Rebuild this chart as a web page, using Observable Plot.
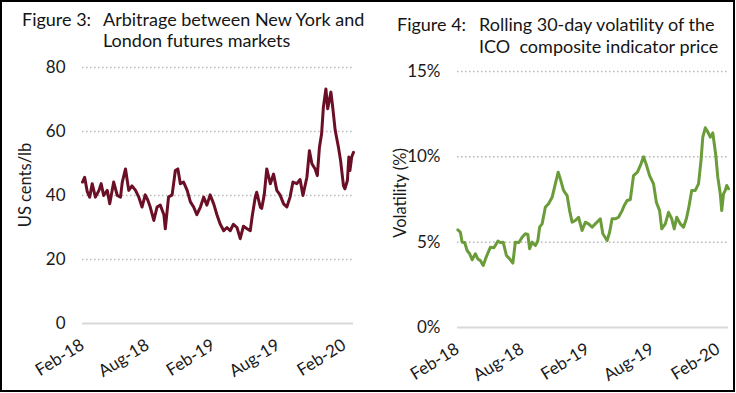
<!DOCTYPE html>
<html>
<head>
<meta charset="utf-8">
<script src="https://cdn.jsdelivr.net/npm/d3@7"></script>
<script src="https://cdn.jsdelivr.net/npm/@observablehq/plot@0.6"></script>
<style>
  body { margin: 0; background: #fff; }
  #wrap { position: relative; width: 736px; height: 393px; overflow: hidden; font-family: Lato, sans-serif; }
  .frame { position: absolute; left: 0; top: 0; width: 735px; height: 392px; border: 2px solid #000; box-sizing: border-box; }
  .t { position: absolute; font-size: 18px; line-height: 21px; color: #151515; white-space: pre; }
  .panel { position: absolute; top: 55px; }
  .ylab { position: absolute; font-size: 16.5px; color: #1a1a1a; white-space: pre; transform: translate(-50%, -50%) rotate(-90deg); z-index: 2; }
</style>
</head>
<body>
<div id="wrap">
  <div class="frame"></div>
  <div class="t" style="left:22px; top:9px;">Figure 3:</div>
  <div class="t" style="left:103px; top:9px;">Arbitrage between New York and<br>London futures markets</div>
  <div class="t" style="left:397px; top:13px; line-height:22px;">Figure 4:</div>
  <div class="t" style="left:479px; top:13px; line-height:22px;">Rolling 30-day volatility of the<br>ICO  composite indicator price</div>
  <div class="panel" id="left" style="left:0px;"></div>
  <div class="panel" id="right" style="left:368px;"></div>
  <div class="ylab" id="ylabL" style="left:25px; top:185px;"></div>
  <div class="ylab" id="ylabR" style="left:400px; top:193px;"></div>
</div>
<script>
// ---- Figure 3: arbitrage (US cents/lb) ----
const arbDates = ["2018-02-01","2018-02-07","2018-02-14","2018-02-21","2018-02-28","2018-03-09","2018-03-19","2018-03-25","2018-04-01","2018-04-11","2018-04-18","2018-04-29","2018-05-09","2018-05-18","2018-05-23","2018-06-01","2018-06-10","2018-06-19","2018-06-29","2018-07-08","2018-07-17","2018-07-26","2018-08-02","2018-08-09","2018-08-19","2018-08-28","2018-09-06","2018-09-16","2018-09-20","2018-09-29","2018-10-09","2018-10-18","2018-10-25","2018-11-01","2018-11-10","2018-11-20","2018-11-29","2018-12-08","2018-12-17","2018-12-27","2019-01-05","2019-01-14","2019-01-23","2019-02-02","2019-02-11","2019-02-20","2019-03-02","2019-03-11","2019-03-20","2019-03-29","2019-04-08","2019-04-17","2019-04-26","2019-05-06","2019-05-15","2019-05-20","2019-05-29","2019-06-02","2019-06-12","2019-06-16","2019-06-23","2019-06-30","2019-07-10","2019-07-19","2019-07-28","2019-08-06","2019-08-16","2019-08-25","2019-09-03","2019-09-11","2019-09-22","2019-10-01","2019-10-09","2019-10-20","2019-10-27","2019-11-03","2019-11-12","2019-11-18","2019-11-24","2019-11-30","2019-12-05","2019-12-12","2019-12-17","2019-12-26","2019-12-31","2020-01-07","2020-01-16","2020-01-22","2020-01-30","2020-02-03","2020-02-10","2020-02-14","2020-02-17","2020-02-22","2020-02-27"];
const arbValues = [44.2,45.7,41.3,39.5,43.7,39.5,41.6,43.7,40.0,41.6,37.4,44.2,40.0,39.5,44.2,48.3,41.6,43.0,41.6,39.5,36.4,40.2,38.6,36.4,32.2,36.4,37.0,34.0,29.6,39.5,40.2,47.8,48.3,43.7,44.2,41.6,38.0,36.4,34.0,36.4,39.5,37.0,40.2,37.4,34.0,31.1,29.0,30.0,29.0,31.0,30.0,26.5,30.4,29.6,29.0,33.2,39.5,41.0,36.4,36.0,40.2,48.3,43.7,46.7,41.6,40.2,37.4,36.4,39.5,44.2,43.7,45.0,40.0,45.7,54.0,49.9,48.3,46.2,55.1,59.3,67.6,73.3,67.1,72.3,67.6,60.3,55.1,50.9,43.1,42.1,44.7,52.0,47.8,52.0,53.5];

// ---- Figure 4: rolling 30-day volatility (%) ----
const volDates = ["2018-02-02","2018-02-09","2018-02-14","2018-02-21","2018-02-28","2018-03-07","2018-03-14","2018-03-23","2018-03-30","2018-04-06","2018-04-14","2018-04-23","2018-05-04","2018-05-14","2018-05-25","2018-06-01","2018-06-09","2018-06-18","2018-06-27","2018-07-06","2018-07-13","2018-07-23","2018-08-01","2018-08-10","2018-08-17","2018-08-22","2018-08-29","2018-09-07","2018-09-14","2018-09-19","2018-09-26","2018-10-05","2018-10-14","2018-10-24","2018-11-02","2018-11-10","2018-11-16","2018-11-25","2018-12-05","2018-12-12","2018-12-19","2018-12-28","2019-01-06","2019-01-16","2019-01-25","2019-02-03","2019-02-13","2019-02-22","2019-03-08","2019-03-15","2019-03-27","2019-04-03","2019-04-10","2019-04-19","2019-04-28","2019-05-08","2019-05-14","2019-05-22","2019-05-31","2019-06-09","2019-06-20","2019-06-30","2019-07-07","2019-07-15","2019-07-24","2019-08-04","2019-08-12","2019-08-21","2019-08-27","2019-09-06","2019-09-15","2019-09-24","2019-10-01","2019-10-08","2019-10-18","2019-10-27","2019-11-04","2019-11-10","2019-11-19","2019-11-29","2019-12-08","2019-12-15","2019-12-20","2019-12-27","2020-01-02","2020-01-10","2020-01-17","2020-01-25","2020-01-31","2020-02-07","2020-02-11","2020-02-16","2020-02-21","2020-02-25","2020-03-01"];
const volValues = [5.72,5.58,5.00,4.98,4.51,4.32,3.97,4.32,4.02,3.92,3.63,4.16,4.70,4.67,5.06,4.98,5.00,4.22,4.02,3.77,5.00,4.98,5.29,5.49,5.45,4.61,5.00,4.80,5.08,5.88,6.07,7.05,7.25,7.63,8.42,9.10,8.71,8.03,7.73,6.85,6.17,6.27,6.46,5.68,6.17,6.07,5.88,6.07,6.37,5.49,5.10,5.58,6.37,6.37,6.46,6.85,7.15,7.44,7.50,8.90,9.10,9.59,10.00,9.53,8.90,8.42,7.34,6.85,5.78,6.07,6.75,6.37,5.78,6.46,6.07,5.88,6.37,6.95,8.03,8.03,8.42,9.78,11.15,11.70,11.50,11.15,11.40,10.17,8.81,7.83,6.85,7.83,8.03,8.32,8.13];

// ---- axes ----
const xTickDates = ["2018-02-01","2018-08-01","2019-02-01","2019-08-01","2020-02-01"];
const xTickLabels = ["Feb-18","Aug-18","Feb-19","Aug-19","Feb-20"];
const arbTicks = [0, 20, 40, 60, 80];
const volTicks = [0, 5, 10, 15];
const volTickLabels = ["0%", "5%", "10%", "15%"];
const arbAxisLabel = "US cents/lb";
const volAxisLabel = "Volatility (%)";

const xTicks = xTickDates.map(d => new Date(d));
const xLabel = new Map(xTicks.map((d, i) => [+d, xTickLabels[i]]));
const volLabel = new Map(volTicks.map((d, i) => [d, volTickLabels[i]]));

const arb = arbDates.map((d, i) => ({date: new Date(d), value: arbValues[i]}));
const vol = volDates.map((d, i) => ({date: new Date(d), value: volValues[i]}));

const baseStyle = {fontFamily: "Lato, sans-serif", fontSize: "17px", color: "#1a1a1a", background: "transparent", overflow: "visible"};

function panel({data, color, yDomain, yTicks, yFormat, xDomain, marginLeft, marginRight, marginTop, marginBottom}) {
  return Plot.plot({
    width: 368, height: 330,
    marginLeft, marginRight, marginTop, marginBottom,
    style: baseStyle,
    x: {type: "utc", domain: xDomain},
    y: {domain: yDomain},
    marks: [
      Plot.gridY(yTicks.filter(d => d > 0), {stroke: "#b8b8b8", strokeOpacity: 1, strokeWidth: 1.5, strokeDasharray: "1.5,2.5"}),
      Plot.ruleY([0], {stroke: "#d9d9d9", strokeWidth: 2}),
      Plot.axisY(yTicks, {tickSize: 0, tickPadding: 17, tickFormat: yFormat, label: null}),
      Plot.axisX(xTicks, {tickSize: 0, tickPadding: 20, tickRotate: -32, tickFormat: d => xLabel.get(+d), label: null}),
      Plot.line(data, {x: "date", y: "value", stroke: color, strokeWidth: 3, strokeLinejoin: "round"})
    ]
  });
}

document.getElementById("ylabL").textContent = arbAxisLabel;
document.getElementById("ylabR").textContent = volAxisLabel;

document.getElementById("left").append(panel({
  data: arb, color: "#6b0f26", yDomain: [0, 80], yTicks: arbTicks, yFormat: d => String(d),
  xDomain: [new Date("2018-02-01"), new Date("2020-02-27")],
  marginLeft: 82, marginRight: 15, marginTop: 12, marginBottom: 62
}));

document.getElementById("right").append(panel({
  data: vol, color: "#6a9c3a", yDomain: [0, 15], yTicks: volTicks, yFormat: d => volLabel.get(d),
  xDomain: [new Date("2018-02-01"), new Date("2020-03-01")],
  marginLeft: 89, marginRight: 8, marginTop: 16, marginBottom: 58
}));
</script>
</body>
</html>
